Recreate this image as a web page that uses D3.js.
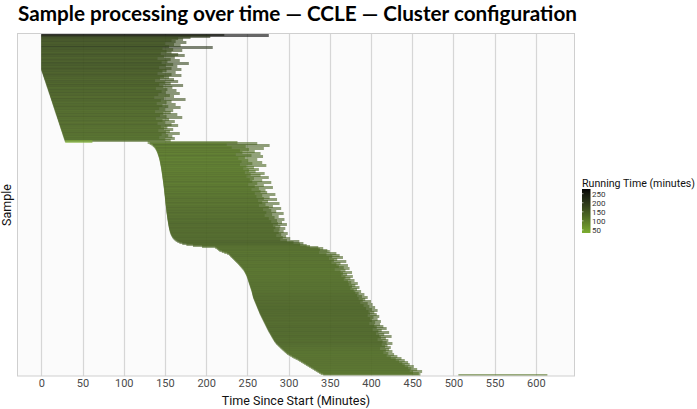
<!DOCTYPE html>
<html><head><meta charset="utf-8">
<script src="https://cdn.jsdelivr.net/npm/d3@7/dist/d3.min.js"></script>
<style>body{margin:0;background:#fff}svg{display:block}</style>
</head><body>
<svg id="c" width="697" height="409"></svg>
<script>
// ---- data (minutes since start), one entry per sample, top to bottom ----
const sampleStart = [
0,0,0,0,0,0,0,0,0,0,0,0,0,0,0,0,0,0,0,0,0,0,0,0,0,0,0,0,0,0,0,0,0,0,0,0,
0.3,0.7,1.1,1.6,2.0,2.3,2.8,3.2,3.5,4.0,4.4,4.9,
5.2,5.6,6.1,6.4,6.8,7.3,7.7,8.0,8.5,8.9,9.2,9.7,
10.1,10.5,10.8,11.3,11.7,12.0,12.5,12.9,13.3,13.6,14.1,14.5,
14.8,15.3,15.7,16.1,16.4,16.9,17.3,17.6,18.1,18.5,18.9,19.2,
19.7,20.1,20.4,20.9,21.3,21.6,22.1,22.5,22.9,23.2,23.7,24.1,
24.4,24.9,25.3,25.7,26.0,26.5,26.9,27.2,27.7,28.1,28.5,29.0,
129.0,131.5,133.6,135.2,136.5,137.6,138.4,139.1,139.7,
140.3,140.8,141.2,141.6,142.0,142.4,142.8,143.1,143.4,143.7,
143.9,144.2,144.4,144.6,144.9,145.1,145.3,145.5,145.7,145.9,
146.1,146.2,146.4,146.6,146.8,146.9,147.1,147.3,147.4,147.6,
147.8,147.9,148.1,148.2,148.4,148.5,148.7,148.8,149.0,149.1,
149.2,149.4,149.5,149.6,149.8,149.9,150.0,150.2,150.3,150.4,
150.5,150.7,150.8,150.9,151.1,151.2,151.3,151.5,151.6,151.7,
151.9,152.0,152.2,152.4,152.5,152.7,152.9,153.0,153.2,153.4,
153.6,153.8,154.0,154.2,154.4,154.6,154.9,155.1,155.4,155.7,
156.0,156.4,156.8,157.3,157.9,158.6,159.4,160.4,161.6,163.0,
165.0,167.5,171.0,176.0,184.0,195.0,
211.0,213.0,214.5,216.0,219.0,222.0,225.5,
227.8,229.0,230.0,231.4,232.6,233.8,235.0,236.3,237.5,238.7,
239.8,240.9,242.0,243.0,244.0,245.0,245.8,246.5,247.2,247.8,
248.4,249.0,249.4,249.9,250.3,250.7,251.0,251.4,251.8,252.2,
252.6,253.0,253.4,253.8,254.2,254.6,255.0,255.3,255.6,255.9,
256.2,256.5,256.8,257.1,257.6,258.1,258.6,259.1,259.6,260.1,
260.6,261.1,261.6,262.1,262.6,263.1,263.6,264.1,264.6,265.1,
265.7,266.3,266.9,267.5,268.1,268.7,269.3,269.9,270.5,271.1,
271.7,272.3,272.9,273.5,274.1,274.7,275.3,276.0,276.7,277.4,
278.1,278.8,279.5,280.2,280.9,281.6,282.3,283.2,284.1,285.0,
286.3,287.5,288.8,290.0,291.3,292.6,294.0,295.3,296.7,298.0,
300.0,302.0,304.0,306.0,308.5,311.0,313.0,315.0,317.0,319.0,
321.0,323.0,325.0,327.0,329.0,331.0,333.0,335.0,337.0,339.0,342.0,
506.0
];
const sampleEnd = [
222,276,205,181,166,172,158,163,176,150,161,169,155,208,147,160,171,152,158,145,166,174,149,162,141,157,168,153,146,179,160,151,165,143,158,170,
152,147,163,141,158,170,149,155,144,161,138,166,
150,157,143,172,148,159,139,153,164,146,151,168,
142,156,161,137,149,175,145,158,152,140,163,147,
154,169,143,150,160,138,157,148,165,144,152,171,
139,155,147,162,150,141,158,166,145,153,149,160,
142,156,151,168,146,154,159,143,162,150,157,62,
238,262,225,277,248,231,270,252,241,
259,244,266,236,255,269,247,239,262,251,
243,268,256,241,273,249,258,245,264,252,
260,247,271,254,266,249,276,258,253,268,
256,279,262,251,270,259,281,264,255,272,
266,274,259,284,268,261,277,270,286,263,
275,268,289,272,264,281,276,291,269,279,
285,273,294,280,271,288,283,276,295,286,
279,292,287,298,281,290,284,296,289,282,
294,288,299,291,285,297,293,302,290,298,
313,306,318,314,322,326,
336,342,338,347,350,337,358,
346,362,353,366,349,359,355,370,352,363,
358,372,361,367,374,356,369,363,377,366,
371,364,378,369,375,367,380,372,376,384,
373,381,377,386,375,383,379,388,381,385,
392,383,389,396,385,393,390,400,387,396,
402,391,398,405,394,401,408,397,404,399,
407,396,410,403,399,408,401,412,405,398,
411,404,415,407,419,402,413,409,422,406,
416,410,425,412,418,408,421,414,419,426,
413,420,417,424,411,422,418,426,415,421,
428,419,432,424,437,430,441,434,445,438,
447,441,452,445,449,456,447,462,451,458,460,
614
];
const xTickValues = [0,50,100,150,200,250,300,350,400,450,500,550,600];
const legendTickValues = [50,100,150,200,250];
const titleText = "Sample processing over time \u2014 CCLE \u2014 Cluster configuration";
const xTitle = "Time Since Start (Minutes)";
const yTitle = "Sample";
const legendTitle = "Running Time (minutes)";

// ---- build ----
const n = Math.min(sampleStart.length, sampleEnd.length);
const rows = d3.range(n).map(i => ({id: i, start: sampleStart[i], end: sampleEnd[i], run: sampleEnd[i] - sampleStart[i]}));

const svg = d3.select("#c");
const P = {left: 17, right: 575, top: 34, bottom: 376};

const x = d3.scaleLinear().domain([-29.5, 647.5]).range([P.left, P.right]);
const y = d3.scaleBand().domain(rows.map(d => d.id)).range([P.top, P.bottom]).padding(0);
const runExt = d3.extent(rows, d => d.run);
const color = d3.scaleSequential(d3.interpolateLab("#7cad30", "#040404")).domain(runExt);

// panel
svg.append("rect").attr("x", P.left).attr("y", P.top - 1).attr("width", P.right - P.left).attr("height", P.bottom - P.top + 1)
  .attr("fill", "#fbfbfb");
svg.append("clipPath").attr("id", "clip").append("rect")
  .attr("x", P.left).attr("y", P.top - 1).attr("width", P.right - P.left).attr("height", P.bottom - P.top + 1);

// grid
svg.append("g").selectAll("line").data(xTickValues).join("line")
  .attr("x1", d => Math.round(x(d)) + 0.5).attr("x2", d => Math.round(x(d)) + 0.5)
  .attr("y1", P.top - 1).attr("y2", P.bottom)
  .attr("stroke", "#d6d6d6").attr("stroke-width", 1.2);

// bars
const bw = y.bandwidth();
svg.append("g").attr("clip-path", "url(#clip)").selectAll("rect").data(rows).join("rect")
  .attr("x", d => x(d.start))
  .attr("width", d => Math.max(0.5, x(d.end) - x(d.start)))
  .attr("y", d => y(d.id) - bw)
  .attr("height", bw * 3)
  .attr("fill", d => color(d.run))
  .attr("fill-opacity", 0.6);

// border
svg.append("rect").attr("x", P.left + 0.5).attr("y", P.top - 0.5).attr("width", P.right - P.left - 1).attr("height", P.bottom - P.top + 0.5)
  .attr("fill", "none").attr("stroke", "#cfcfcf").attr("stroke-width", 1);

// x axis labels
const xAxis = d3.axisBottom(x).tickValues(xTickValues).tickSize(0).tickPadding(0);
const gx = svg.append("g").attr("transform", `translate(0,${P.bottom})`).call(xAxis);
gx.select(".domain").remove();
gx.selectAll("text").attr("y", 11).attr("dy", 0)
  .attr("font-family", "Roboto, sans-serif").attr("font-size", 11).attr("fill", "#4a4a4a");

// titles
svg.append("text").attr("x", (P.left + P.right) / 2).attr("y", 405).attr("text-anchor", "middle")
  .attr("font-family", "Roboto, sans-serif").attr("font-size", 12.5).attr("fill", "#111").text(xTitle);
svg.append("text").attr("transform", `translate(11,${(P.top + P.bottom) / 2}) rotate(-90)`).attr("text-anchor", "middle")
  .attr("font-family", "Roboto, sans-serif").attr("font-size", 12.5).attr("fill", "#111").text(yTitle);
svg.append("text").attr("x", 18).attr("y", 21)
  .attr("font-family", "Lato, 'Open Sans', sans-serif").attr("font-weight", "bold").attr("font-size", 20)
  .attr("textLength", 559).attr("lengthAdjust", "spacingAndGlyphs").attr("fill", "#000").text(titleText);

// legend
const L = {x: 582, w: 8.5};
const ly = d3.scaleLinear().domain(runExt).range([233, 189]);
const defs = svg.append("defs");
const grad = defs.append("linearGradient").attr("id", "lg").attr("x1", 0).attr("y1", 1).attr("x2", 0).attr("y2", 0);
d3.range(0, 1.0001, 0.1).forEach(t => {
  grad.append("stop").attr("offset", t).attr("stop-color", color(runExt[0] + t * (runExt[1] - runExt[0])));
});
svg.append("text").attr("x", L.x).attr("y", 187).attr("font-family", "Roboto, sans-serif").attr("font-size", 10.5)
  .attr("textLength", 113).attr("lengthAdjust", "spacingAndGlyphs")
  .attr("fill", "#111").text(legendTitle);
svg.append("rect").attr("x", L.x).attr("y", ly(runExt[1])).attr("width", L.w).attr("height", ly(runExt[0]) - ly(runExt[1]))
  .attr("fill", "url(#lg)");
const lg = svg.append("g");
lg.selectAll("line").data(legendTickValues).join("line")
  .attr("x1", L.x).attr("x2", L.x + 1.5).attr("y1", d => ly(d)).attr("y2", d => ly(d))
  .attr("stroke", "#fff").attr("stroke-width", 0.6);
lg.selectAll("text").data(legendTickValues).join("text")
  .attr("x", L.x + L.w + 1.5).attr("y", d => ly(d) + 3)
  .attr("font-family", "Roboto, sans-serif").attr("font-size", 8).attr("fill", "#333").text(d => d);
</script>
</body></html>
